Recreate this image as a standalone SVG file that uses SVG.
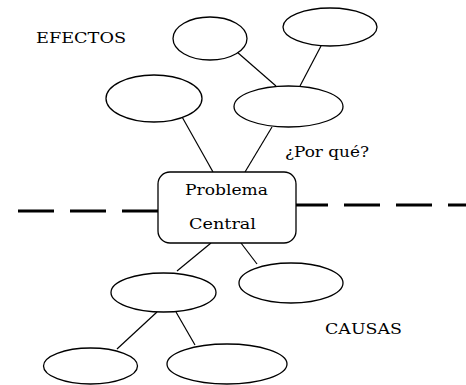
<svg xmlns="http://www.w3.org/2000/svg" width="466" height="385" viewBox="0 0 466 385">
<style>
.n{fill:#fff;stroke:#000;stroke-width:1.3}
.c{stroke:#000;stroke-width:1.2;fill:none}
.d{stroke:#000;stroke-width:3;fill:none;stroke-dasharray:36 16}
.t{font-family:"DejaVu Serif","Liberation Serif",serif;font-size:15px;fill:#000}
</style>
<rect width="466" height="385" fill="#fff"/>
<g id="connectors">
<line class="c" x1="237" y1="52" x2="276" y2="86"/>
<line class="c" x1="321" y1="46" x2="300" y2="86"/>
<line class="c" x1="181" y1="115" x2="213" y2="172"/>
<line class="c" x1="272" y1="127" x2="245" y2="172"/>
<line class="c" x1="211" y1="243" x2="177" y2="271"/>
<line class="c" x1="241" y1="243" x2="257" y2="264"/>
<line class="c" x1="157" y1="312" x2="117" y2="349"/>
<line class="c" x1="176" y1="312" x2="195" y2="345"/>
<path class="d" d="M158 211 H15"/>
<path class="d" d="M292 205 H466"/>
</g>
<g id="label-efectos"><text class="t" x="36" y="43" textLength="90" lengthAdjust="spacingAndGlyphs">EFECTOS</text></g>
<g id="label-porque"><text class="t" x="285" y="157" textLength="84" lengthAdjust="spacingAndGlyphs">¿Por qué?</text></g>
<g id="label-causas"><text class="t" x="325" y="334" textLength="77" lengthAdjust="spacingAndGlyphs">CAUSAS</text></g>
<g id="effect-top-middle"><ellipse class="n" cx="210" cy="38.5" rx="37" ry="21.5"/></g>
<g id="effect-top-right"><ellipse class="n" cx="330" cy="27" rx="47" ry="19"/></g>
<g id="effect-left"><ellipse class="n" cx="154" cy="98.5" rx="48" ry="23.5"/></g>
<g id="effect-right"><ellipse class="n" cx="288.5" cy="106.5" rx="54.5" ry="20.5"/></g>
<g id="problema-central">
<rect class="n" x="158" y="172" width="138" height="71" rx="12" ry="12"/>
<text class="t" x="185" y="195" textLength="83" lengthAdjust="spacingAndGlyphs">Problema</text>
<text class="t" x="189" y="229" textLength="67" lengthAdjust="spacingAndGlyphs">Central</text>
</g>
<g id="cause-left"><ellipse class="n" cx="163.5" cy="292.5" rx="52.5" ry="19.5"/></g>
<g id="cause-right"><ellipse class="n" cx="291" cy="283" rx="52" ry="20"/></g>
<g id="cause-bottom-left"><ellipse class="n" cx="90.5" cy="366" rx="47" ry="18"/></g>
<g id="cause-bottom-right"><ellipse class="n" cx="227" cy="364" rx="60" ry="20"/></g>
</svg>
